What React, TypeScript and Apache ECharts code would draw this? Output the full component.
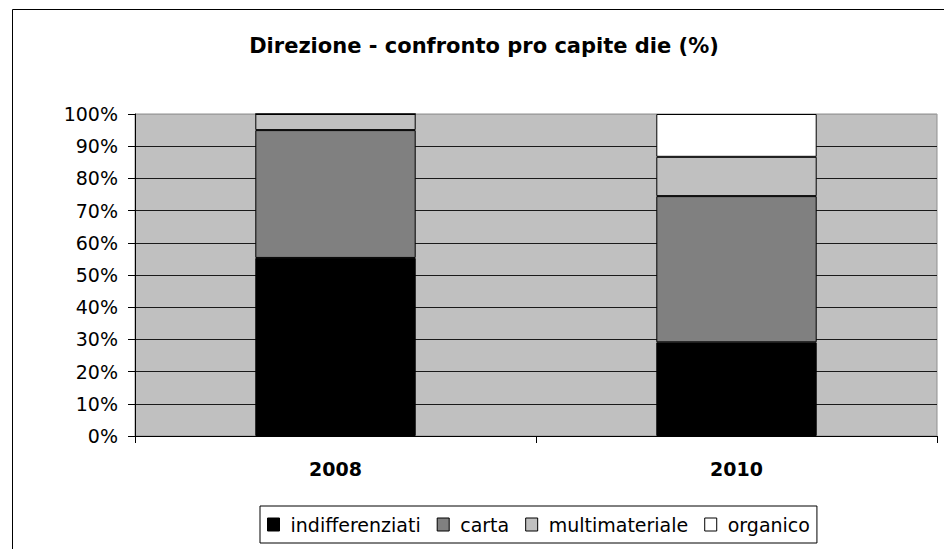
import React, { useEffect, useRef } from "react";
import * as echarts from "echarts";

const titleText = "Direzione - confronto pro capite die (%)";
const categories = ["2008", "2010"];
const seriesNames = ["indifferenziati", "carta", "multimateriale", "organico"];
const indifferenziati = [55.3, 29.1];
const carta = [39.7, 45.4];
const multimateriale = [5.0, 12.2];
const organico = [0, 13.3];
const seriesColors = ["#000000", "#808080", "#c0c0c0", "#ffffff"];
const yTicks = [0, 10, 20, 30, 40, 50, 60, 70, 80, 90, 100];

export default function App() {
  const ref = useRef<HTMLDivElement>(null);
  useEffect(() => {
    if (!ref.current) return;
    const chart = echarts.init(ref.current, null, { renderer: "svg" });
    const values = [indifferenziati, carta, multimateriale, organico];
    const font = "DejaVu Sans";
    const splitColors = yTicks.map((t) => (t === 100 ? "#a0a0a0" : "#1a1a1a"));
    chart.setOption({
      animation: false,
      backgroundColor: "#ffffff",
      title: {
        text: titleText,
        left: 484,
        top: 35,
        textAlign: "center",
        padding: 0,
        textStyle: { fontFamily: font, fontWeight: "bold", fontSize: 21, color: "#000" },
      },
      graphic: [
        {
          type: "rect",
          shape: { x: 12.5, y: 9.5, width: 960, height: 560 },
          style: { fill: "none", stroke: "#000", lineWidth: 1 },
          silent: true,
        },
      ],
      legend: {
        left: 260,
        top: 506,
        orient: "horizontal",
        borderColor: "#000",
        borderWidth: 1,
        padding: [9, 7, 9, 7],
        itemGap: 16,
        itemWidth: 12,
        itemHeight: 13,
        icon: "rect",
        data: seriesNames,
        textStyle: { fontFamily: font, fontSize: 19, color: "#000", padding: [0, 0, 0, 6] },
        itemStyle: { borderColor: "#000", borderWidth: 1 },
      },
      grid: {
        left: 135,
        top: 114,
        right: 7,
        bottom: 113,
        show: true,
        backgroundColor: "#c0c0c0",
        borderColor: "#909090",
        borderWidth: 1,
        containLabel: false,
      },
      xAxis: {
        type: "category",
        data: categories,
        axisLine: { lineStyle: { color: "#000", width: 1 } },
        axisTick: { show: true, alignWithLabel: false, length: 7, lineStyle: { color: "#000" } },
        axisLabel: { margin: 23, fontFamily: font, fontWeight: "bold", fontSize: 19, color: "#000" },
        splitLine: { show: false },
      },
      yAxis: {
        type: "value",
        min: 0,
        max: 100,
        interval: 10,
        axisLine: { show: true, lineStyle: { color: "#000", width: 1 } },
        axisTick: { show: true, length: 7, lineStyle: { color: "#000" } },
        axisLabel: {
          margin: 17,
          fontFamily: font,
          fontSize: 19,
          color: "#000",
          formatter: "{value}%",
        },
        splitLine: { show: true, lineStyle: { color: splitColors, width: 1 } },
      },
      series: seriesNames.map((name, i) => ({
        name,
        type: "bar",
        stack: "total",
        barWidth: "40%",
        data: values[i],
        itemStyle: { color: seriesColors[i], borderColor: "#000", borderWidth: 1 },
      })),
    });
    return () => chart.dispose();
  }, []);
  return (
    <div
      ref={ref}
      style={{ position: "absolute", left: 0, top: 0, width: 944, height: 549 }}
    />
  );
}
